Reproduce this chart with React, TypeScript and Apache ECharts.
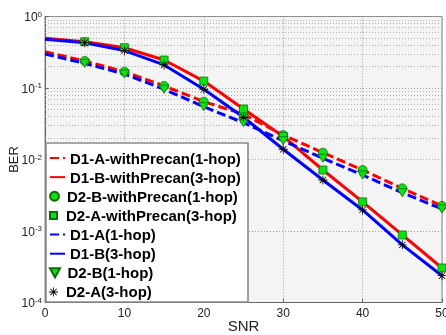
import React, { useEffect, useRef } from "react";
import * as echarts from "echarts";

const snr = [0, 5, 10, 15, 20, 25, 30, 35, 40, 45, 50];
const markerSnr = [5, 10, 15, 20, 25, 30, 35, 40, 45, 50];

const d1aPrecan = [0.322, 0.239, 0.169, 0.107, 0.0644, 0.043, 0.022, 0.01245, 0.00713, 0.00395, 0.00224];
const d1bPrecan = [0.495, 0.444, 0.366, 0.246, 0.125, 0.0508, 0.021, 0.00713, 0.00255, 0.00088, 0.000304];
const d1a = [0.299, 0.221, 0.157, 0.096, 0.0547, 0.0327, 0.0183, 0.0104, 0.00607, 0.00343, 0.00203];
const d1b = [0.48, 0.43, 0.333, 0.21, 0.096, 0.039, 0.0139, 0.00517, 0.00197, 0.00064, 0.000237];

const d2bPrecan = [0.239, 0.169, 0.107, 0.0644, 0.043, 0.022, 0.01245, 0.00713, 0.00395, 0.00224];
const d2aPrecan = [0.444, 0.366, 0.246, 0.125, 0.0508, 0.021, 0.00713, 0.00255, 0.00088, 0.000304];
const d2b = [0.221, 0.157, 0.096, 0.0547, 0.0327, 0.0183, 0.0104, 0.00607, 0.00343, 0.00203];
const d2a = [0.43, 0.333, 0.21, 0.096, 0.039, 0.0139, 0.00517, 0.00197, 0.00064, 0.000237];

const seriesNames = [
  "D1-A-withPrecan(1-hop)",
  "D1-B-withPrecan(3-hop)",
  "D2-B-withPrecan(1-hop)",
  "D2-A-withPrecan(3-hop)",
  "D1-A(1-hop)",
  "D1-B(3-hop)",
  "D2-B(1-hop)",
  "D2-A(3-hop)",
];
const isLineEntry = [true, true, false, false, true, true, false, false];

const xTicks = [0, 10, 20, 30, 40, 50];
const decades = [1e-4, 1e-3, 1e-2, 1e-1];
const minorMultipliers = [2, 3, 4, 5, 6, 7, 8, 9];

const asteriskPath =
  "path://M4.55 0 L5.45 0 L5.45 10 L4.55 10 Z M0 4.55 L10 4.55 L10 5.45 L0 5.45 Z M1.2 1.8 L1.8 1.2 L8.8 8.2 L8.2 8.8 Z M8.2 1.2 L8.8 1.8 L1.8 8.8 L1.2 8.2 Z";
const triDownPath = "path://M0 0 L10 0 L5 9 Z";
const squarePath = "path://M0 0 L10 0 L10 10 L0 10 Z";

const RED = "#ff0000";
const BLUE = "#0000ff";
const GREEN = "#10e010";
const GREEN_EDGE = "#0b6e0b";

export default function App() {
  const ref = useRef<HTMLDivElement>(null);
  useEffect(() => {
    if (!ref.current) return;
    const chart = echarts.init(ref.current, undefined, { renderer: "svg" });
    const zip = (xs: number[], ys: number[]) => xs.map((x, i) => [x, ys[i]]);
    const minorLines: any[] = [];
    decades.forEach((d) => minorMultipliers.forEach((m) => minorLines.push({ yAxis: d * m })));

    const lineSeries = (name: string, data: number[], color: string, dashed: boolean, extra: any = {}) => ({
      name,
      type: "line",
      data: zip(snr, data),
      symbol: "none",
      z: 2,
      lineStyle: { color, width: 3, type: dashed ? [9, 4] : "solid" },
      itemStyle: { color },
      ...extra,
    });
    const markerSeries = (name: string, data: number[], symbol: string, size: any, color: string, edge: string, bw = 0.8) => ({
      name,
      type: "scatter",
      data: zip(markerSnr, data),
      symbol,
      symbolSize: size,
      symbolKeepAspect: true,
      z: 3,
      itemStyle: { color, borderColor: edge, borderWidth: bw, opacity: 1 },
    });

    const iconHeights = [9, 9, 9, 7, 9, 9, 9, 9];
    const rowTop0 = 149;
    const rowStep = 19.14;
    const legends = seriesNames.map((n, i) => ({
      data: [n],
      orient: "vertical",
      left: 49,
      top: rowTop0 + rowStep * i,
      padding: 0,
      itemGap: 0,
      itemWidth: 15,
      itemHeight: iconHeights[i],
      selectedMode: false,
      z: 10,
      itemStyle: isLineEntry[i]
        ? { color: "transparent", borderColor: "transparent", borderWidth: 0, opacity: 0 }
        : {},
      textStyle: {
        fontSize: 15,
        fontWeight: "bold",
        color: "#000",
        lineHeight: 18,
        fontFamily: "Liberation Sans",
      },
    }));

    chart.setOption({
      animation: false,
      textStyle: { fontFamily: "Liberation Sans" },
      grid: {
        left: 45,
        right: 4,
        top: 16.5,
        bottom: 32.5,
        outerBoundsMode: "none",
        containLabel: false,
        show: true,
        backgroundColor: "#f4f4f4",
        borderColor: "#888",
        borderWidth: 1,
      },
      legend: legends,
      graphic: [
        {
          type: "rect",
          z: 5,
          shape: { x: 46, y: 143, width: 202, height: 159 },
          style: { fill: "#ffffff", stroke: "#8a8a8a", lineWidth: 1.6 },
          silent: true,
        },
      ],
      xAxis: {
        type: "value",
        min: 0,
        max: 50,
        interval: 10,
        name: "SNR",
        nameLocation: "middle",
        nameGap: 15,
        nameMoveOverlap: false,
        nameTextStyle: { fontSize: 15, color: "#222" },
        axisLine: { show: true, lineStyle: { color: "#666" } },
        axisTick: { show: true, inside: true, length: 4, lineStyle: { color: "#666" } },
        axisLabel: {
          fontSize: 12,
          color: "#222",
          margin: 4,
          formatter: (v: number) => (xTicks.includes(v) ? String(v) : ""),
        },
        splitLine: { show: true, lineStyle: { color: "#9a9a9a", type: [1, 2], width: 1 } },
      },
      yAxis: {
        type: "log",
        logBase: 10,
        min: 1e-4,
        max: 1,
        name: "BER",
        nameLocation: "middle",
        nameGap: 25,
        nameMoveOverlap: false,
        nameTextStyle: { fontSize: 13, color: "#222" },
        axisLine: { show: true, lineStyle: { color: "#666" } },
        axisTick: { show: true, inside: true, length: 4, lineStyle: { color: "#666" } },
        axisLabel: {
          margin: 3,
          formatter: (v: number) => `{b|10}{s|${Math.round(Math.log10(v))}}`,
          rich: {
            b: { fontSize: 12, color: "#222", lineHeight: 13, verticalAlign: "bottom" },
            s: { fontSize: 8, color: "#222", lineHeight: 8, verticalAlign: "top" },
          },
        },
        splitLine: { show: true, lineStyle: { color: "#9a9a9a", type: [1, 2], width: 1 } },
      },
      series: [
        lineSeries(seriesNames[0], d1aPrecan, RED, true, {
          markLine: {
            silent: true,
            z: 1,
            symbol: ["none", "none"],
            label: { show: false },
            lineStyle: { color: "#b0b0b0", type: [1, 2], width: 1 },
            emphasis: { disabled: true },
            data: minorLines,
          },
        }),
        lineSeries(seriesNames[1], d1bPrecan, RED, false),
        markerSeries(seriesNames[2], d2bPrecan, "circle", 9, GREEN, GREEN_EDGE),
        markerSeries(seriesNames[3], d2aPrecan, squarePath, 8, GREEN, GREEN_EDGE),
        lineSeries(seriesNames[4], d1a, BLUE, true),
        lineSeries(seriesNames[5], d1b, BLUE, false),
        markerSeries(seriesNames[6], d2b, triDownPath, [10, 9], GREEN, GREEN_EDGE),
        markerSeries(seriesNames[7], d2a, asteriskPath, 9, "#000", "#000", 0),
      ],
    });
    return () => chart.dispose();
  }, []);
  return <div ref={ref} style={{ position: "fixed", left: 0, top: 0, width: 446, height: 335 }} />;
}
